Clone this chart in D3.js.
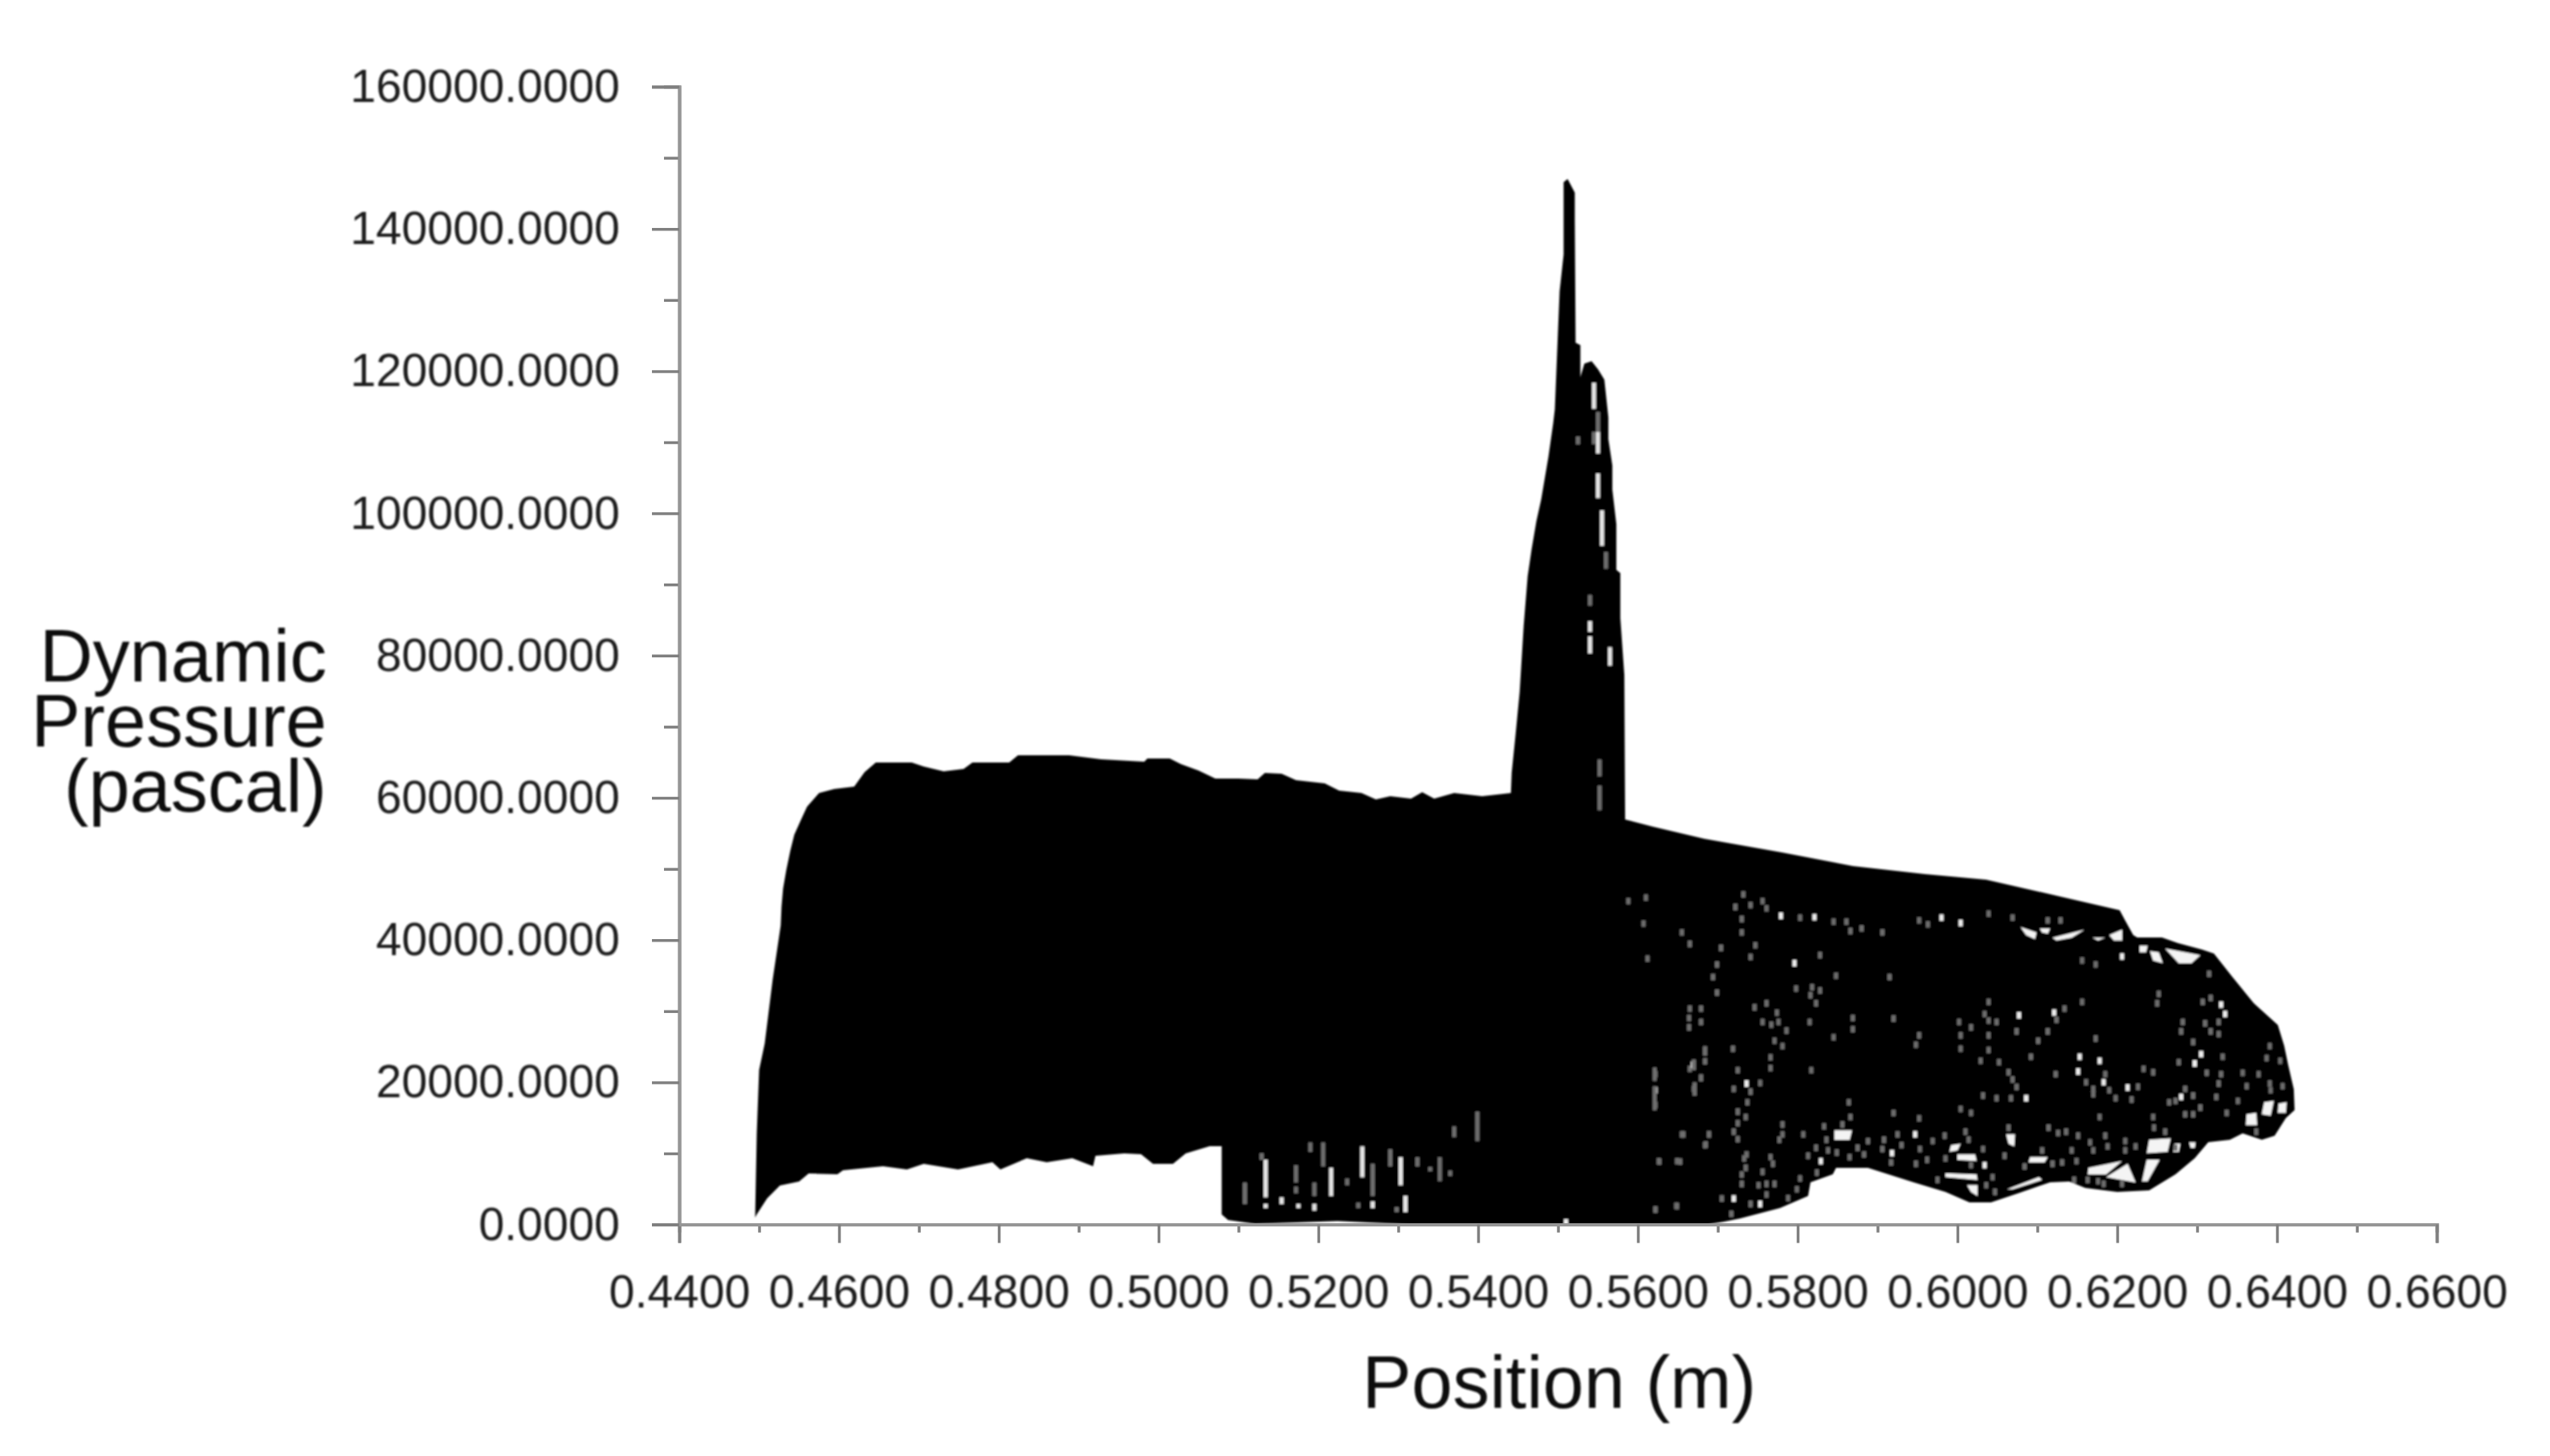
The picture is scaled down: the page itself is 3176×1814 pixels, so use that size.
<!DOCTYPE html>
<html><head><meta charset="utf-8">
<script src="https://cdn.jsdelivr.net/npm/d3@7"></script>
<style>
html,body{margin:0;padding:0;background:#fff;overflow:hidden}
svg{display:block}
text{font-family:"Liberation Sans",Arial,sans-serif}
</style></head><body><svg id="c" width="3176" height="1814"></svg>
<script>
// ---------- axis content ----------
const xMajorTicks=[0.44,0.46,0.48,0.50,0.52,0.54,0.56,0.58,0.60,0.62,0.64,0.66];
const xMinorTicks=[0.45,0.47,0.49,0.51,0.53,0.55,0.57,0.59,0.61,0.63,0.65];
const yMajorTicks=[0,20000,40000,60000,80000,100000,120000,140000,160000];
const yMinorTicks=[10000,30000,50000,70000,90000,110000,130000,150000];
const xTitle="Position (m)";
const yTitleLines=["Dynamic","Pressure","(pascal)"];

// ---------- silhouette of the node cloud (position, pressure), read clockwise ----------
const envelopeX=[.4495,.4497,.4500,.4507,.4517,.4523,.4527,.4528,.4530,.4534,.4539,.4544,.4553,.4560,.4575,.4594,.4619,.4632,.4646,.4691,.4706,.4731,.4756,.4767,.4813,.4824,.4888,.4928,.4982,.4986,.5014,.5028,.5050,.5071,.5100,.5124,.5133,.5154,.5172,.5208,.5226,.5254,.5272,.5290,.5316,.5330,.5345,.5370,.5405,.5441,
.5442,.5447,.5452,.5457,.5462,.5467,.5473,.5479,.5488,.5494,.5496,.5502,.5507,.5507,.5512,.5521,.5521,.5522,.5528,.5528,.5533,.5542,.5550,.5558,.5563,.5563,.5568,.5568,.5573,.5573,.5578,.5578,.5583,.5584,
.5619,.5683,.5780,.5869,.5959,.6036,.6133,.6203,.6210,.6220,.6225,.6256,.6276,.6306,.6321,.6344,.6371,.6401,.6409,.6414,.6421,.6422,.6411,.6397,.6381,.6357,.6341,.6314,.6297,.6273,.6240,.6200,.6160,.6140,.6116,.6075,.6042,.6015,.5985,.5945,.5888,.5848,.5844,.5816,.5813,.5778,.5728,.5708,.5687,
.5316,.5224,.5121,.5087,.5079,.5079,.5064,.5034,.5018,.4993,.4978,.4957,.4921,.4918,.4892,.4860,.4835,.4802,.4792,.4749,.4706,.4685,.4655,.4605,.4598,.4562,.4550,.4526,.4510,.4497];
const envelopeP=[970,12710,21740,25460,34490,39010,42060,44650,47250,49840,52550,54810,57070,58760,60680,61240,61580,63610,64970,64970,64400,63730,64060,64970,64970,65980,65980,65420,65080,65530,65530,64740,63840,62710,62710,62600,63500,63390,62480,62030,61020,60680,59780,60230,59890,60790,59890,60680,60230,60680,
63500,69030,74900,84160,91150,94990,98940,101990,107970,112710,114630,131220,136410,146570,147030,145100,141380,124000,123660,119150,121060,121400,120270,118810,113500,110450,106730,103340,98490,92060,91600,85290,77270,56950,
55940,54250,52330,50410,49280,48490,46010,44200,42730,40700,40360,40360,39570,38670,38100,34830,31110,28060,25120,22420,19030,16100,14970,12480,11920,12820,11920,11580,9320,7070,4810,4580,5150,6050,5940,4360,3120,3120,4580,5940,7970,7970,7070,5940,4020,2330,860,410,0,
0,500,100,630,1420,11020,11020,10000,8530,8530,9890,10000,9660,8190,9320,8760,9320,7740,8760,7740,8530,7740,8190,7630,7070,7180,6050,5490,3680,1420];

// ---------- open cells of the sparse mesh near the lower and upper rim ----------
const meshGaps=[
[[.6079,41830],[.6099,41080],[.6097,40140],[.6086,40700]],
[[.6119,40330],[.6159,41460],[.6143,40330],[.6124,39950]],
[[.6190,40700],[.6206,41460],[.6206,39950],[.6196,39950]],
[[.6103,41640],[.6116,41640],[.6113,40890],[.6106,41080]],
[[.6169,40330],[.6185,40330],[.6176,39950]],
[[.6260,38820],[.6304,37880],[.6293,36750],[.6277,36750]],
[[.6228,39200],[.6238,39200],[.6236,38260],[.6228,38260]],
[[.6241,38450],[.6252,38260],[.6257,36750],[.6245,37130]],
[[.6237,9100],[.6253,9100],[.6238,6090],[.6231,6090]],
[[.6240,11930],[.6267,12110],[.6263,10230],[.6237,10040]],
[[.6164,7970],[.6206,8920],[.6186,7030],[.6163,7030]],
[[.6213,8540],[.6223,5910],[.6186,6660]],
[[.6091,9480],[.6113,9480],[.6109,8730],[.6089,8730]],
[[.6062,4960],[.6102,6660],[.6106,6280],[.6069,4960]],
[[.5985,7220],[.6024,7030],[.6025,6280],[.5985,6660]],
[[.6000,9860],[.6022,9860],[.6024,8920],[.6000,9100]],
[[.5992,11170],[.6004,11360],[.6000,10420],[.5990,10230]],
[[.6012,5530],[.6025,5530],[.6025,4020],[.6017,4590]],
[[.6362,15500],[.6374,15690],[.6375,13990],[.6361,13990]],
[[.6384,17190],[.6396,17380],[.6392,15310],[.6381,15500]],
[[.6402,17000],[.6412,17190],[.6411,15690],[.6401,15690]],
[[.6061,12680],[.6072,12680],[.6071,10980],[.6064,11360]],
[[.6290,11550],[.6298,11550],[.6297,10800],[.6292,10800]],
[[.6272,11360],[.6279,11360],[.6277,10230],[.6270,10230]],
[[.5846,13240],[.5868,13240],[.5865,11920],[.5846,11920]]];

// ---------- small holes in the mesh: fully open ----------
const openHoles=[[.6153,23590],[.6151,21520],[.6183,20010],[.6213,19260],[.6086,17760],[.6034,8350],[.6004,42400],[.5980,43150],[.6206,37690],[.6330,30920],[.6335,29600],[.6297,22650],[.6305,23960],[.6280,17940],[.6077,29420],[.6121,29800],[.5947,12680],[.6178,23020],
[.5779,43410],[.5821,43220],[.5796,36750],[.5669,22460],[.5622,18880],[.5736,19820],[.5720,3650],[.5753,2890],[.5829,8910],[.5918,10040],[.5510,300]];

// ---------- small holes in the mesh: partly covered ----------
const partHoles=[[.5963,42210],[.5952,42770],[.6039,43710],[.6069,43150],[.6129,42770],[.6113,42770],[.6156,37130],[.6173,36570],[.6315,35250],[.6252,32430],[.6156,31300],[.6039,31300],[.6034,29600],[.6039,28670],[.6049,28480],[.6002,28480],[.6074,27160],[.6017,27720],[.6004,26600],[.6039,26600],[.5952,26600],[.5948,25280],[.6004,24720],[.6039,24530],[.6029,23020],[.6052,22830],[.6092,23590],[.6064,21410],[.6069,20390],[.6074,19340],[.6032,18130],[.6049,17760],[.6067,17760],[.6101,25840],[.6123,21140],[.6124,28780],[.6134,30360],[.6113,27160],[.6173,26150],[.6161,20010],[.6170,19070],[.6190,18880],[.6170,18320],[.6185,21140],[.6226,19370],[.6218,17570],[.6233,21890],[.6245,21410],[.6198,17760],[.6250,31110],[.6282,28480],[.6280,27160],[.6295,25660],[.6310,28290],[.6317,27160],[.6327,28480],[.6327,26780],[.6307,31300],[.6317,31860],[.6391,25090],[.6387,23400],[.6404,23020],[.6332,23590],[.6277,22830],[.6265,17190],[.6273,17380],[.6285,19070],[.6295,18130],[.6312,21330],[.6330,21140],[.6327,19820],[.6324,17940],[.6351,17380],[.6357,21330],[.6377,21140],[.6362,19450],[.6391,19820],[.6392,18880],[.6337,15690],[.6304,16440],[.6295,15500],[.6285,15500],[.6245,15120],[.6178,15120],[.6260,13050],[.6246,13620],[.6136,13050],[.6126,12870],[.6114,13620],[.6151,12490],[.6185,12490],[.6166,11550],[.6210,11740],[.6188,10980],[.6170,10420],[.6143,10420],[.6106,10420],[.6223,10980],[.6064,13620],[.6017,15690],[.6004,16250],[.5952,14930],[.6010,13050],[.5984,12490],[.5969,11740],[.6014,11930],[.5953,10610],[.5962,9100],[.5985,9290],[.5948,8540],[.6032,10610],[.6059,9670],[.6017,8350],[.6044,6660],[.5975,6280],[.6119,8540],[.6131,8730],[.6149,8920],[.6084,8160],[.6146,6280],[.6163,6280],[.6176,6090],[.6183,5720],[.6206,5720],[.6036,5530],[.6047,4590],[.6210,10420],[.6273,10800],[.6374,13050],[.6407,19450],
[.5588,45480],[.5610,45970],[.5732,46420],[.5722,44650],[.5741,44920],[.5756,45480],[.5761,44460],[.5803,43150],[.5845,42580],[.5861,42580],[.5880,41640],[.5906,41080],[.5866,41270],[.5607,42320],[.5655,41080],[.5665,39460],[.5704,38900],[.5747,39270],[.5730,41080],[.5730,42960],[.5612,37390],[.5741,37620],[.5699,36560],[.5828,37880],[.5694,34800],[.5699,32610],[.5848,34980],[.5915,34800],[.5798,33180],[.5818,33370],[.5828,32910],[.5816,32240],[.5823,31110],[.5665,30360],[.5679,30360],[.5679,28480],[.5664,29040],[.5664,27720],[.5746,30540],[.5761,31110],[.5774,29790],[.5776,28480],[.5767,28100],[.5756,28480],[.5786,27270],[.5815,28480],[.5869,29040],[.5869,27460],[.5920,28960],[.5845,26330],[.5771,25840],[.5781,25090],[.5684,24340],[.5719,24710],[.5684,22950],[.5766,23510],[.5766,22000],[.5817,21700],[.5665,21890],[.5622,21140],[.5622,16810],[.5679,20570],[.5670,19070],[.5725,21700],[.5741,18690],[.5753,19900],[.5720,19070],[.5737,17190],[.5864,17190],[.5725,15870],[.5735,15120],[.5725,14250],[.5720,13050],[.5725,12000],[.5866,15120],[.5856,14070],[.5833,13800],[.5781,14070],[.5781,12670],[.5777,11920],[.5807,12670],[.5920,15680],[.5655,12670],[.5689,12670],[.5685,11240],[.5627,8840],[.5653,8840],[.5736,9850],[.5733,9290],[.5766,9480],[.5769,8540],[.5735,7970],[.5756,7410],[.5730,7030],[.5730,5710],[.5751,5530],[.5761,5710],[.5771,5710],[.5803,6470],[.5705,3650],[.5761,4210],[.5741,2890],[.5799,4960],[.5788,3720],[.5717,1500],[.5649,2590],[.5622,2070],[.5823,10790],[.5824,7300],[.5849,10120],[.5875,10790],[.5888,11730],[.5906,10610],[.5930,11170],[.5917,8720],[.5883,9850],[.5865,9480],[.5838,10420],[.5813,9670],[.5925,12670],[.5908,11920],[.5836,11920],
[.5657,12670],[.5689,12670],[.5684,11160],[.5649,8910],[.5626,8910],[.5648,2620],[.5622,2140]];

// ---------- vertical slits [position, high, low]: fully open ----------
const openSlits=[[.5545,118370,114700],[.5550,105610,102150],[.5555,100420,95450],[.5550,111450,108430],[.5540,82690,80310],[.5540,84850,83340],[.5565,81180,78580],
[.5134,9100,3830],[.5134,2890,2320],[.5216,7970,4020],[.5255,10980,6650],[.5303,9470,5520],[.5309,4020,1760],[.5268,3260,2320],[.5195,2890,1950],[.5175,2890,2320],[.5154,3830,2890]];

// ---------- vertical slits [position, high, low]: partly covered ----------
const partSlits=[[.5560,94580,92210],[.5540,88530,87020],[.5525,110800,109700],[.5550,114260,111450],[.5552,65390,63010],[.5552,61720,58250],[.5545,111450,109720],
[.5108,5900,2890],[.5129,10040,9100],[.5172,8340,5900],[.5172,5330,4390],[.5190,11540,10220],[.5206,11540,8160],[.5195,5900,4020],[.5236,6460,5520],[.5268,8530,4020],[.5290,10600,8160],[.5324,9470,8160],[.5352,9470,6090],[.5365,7590,6840],[.5370,13800,12290],[.5399,15870,11730],[.5250,3080,2320],[.5340,8080,7480],[.5298,2440,1760],
[.5621,22070,20190],[.5621,19440,16050],[.5670,23200,21700],[.5671,20000,18120],[.5684,25080,23770],[.5679,21130,20190]];

// ---------- scales ----------
const x=d3.scaleLinear().domain([0.44,0.66]).range([846,3035]);
const y=d3.scaleLinear().domain([0,160000]).range([1525.6,108]);
const svg=d3.select("#c");
svg.append("rect").attr("width",3176).attr("height",1814).attr("fill","#fff");
const defs=svg.append("defs");
defs.append("filter").attr("id","soft").attr("x","-2%").attr("y","-2%").attr("width","104%").attr("height","104%")
  .append("feGaussianBlur").attr("stdDeviation",0.9);

// ---------- marks ----------
const marks=svg.append("g").attr("filter","url(#soft)");
marks.append("path")
  .attr("d",d3.line().x(i=>x(envelopeX[i])).y(i=>y(envelopeP[i])).curve(d3.curveLinearClosed)(d3.range(envelopeX.length)))
  .attr("fill","#000");
marks.selectAll("path.gap").data(meshGaps).join("path").attr("class","gap")
  .attr("d",d3.line().x(d=>x(d[0])).y(d=>y(d[1])).curve(d3.curveLinearClosed))
  .attr("fill","#f4f4f4");
function holes(list,fill){
  marks.append("g").selectAll("rect").data(list).join("rect")
    .attr("x",d=>x(d[0])-2.5).attr("y",d=>y(d[1])-4).attr("width",5).attr("height",8).attr("fill",fill);
}
function slits(list,fill){
  marks.append("g").selectAll("rect").data(list).join("rect")
    .attr("x",d=>x(d[0])-2.5).attr("y",d=>y(d[1])).attr("width",5).attr("height",d=>y(d[2])-y(d[1])).attr("fill",fill);
}
holes(partHoles,"#6e6e6e");
holes(openHoles,"#f0f0f0");
slits(partSlits,"#6e6e6e");
slits(openSlits,"#e6e6e6");

// ---------- axes ----------
const axisColor="#7f7f7f";
function style(g,w){g.selectAll("path.domain").attr("stroke","#969696").attr("stroke-width",w);g.selectAll(".tick line").attr("stroke",axisColor).attr("stroke-width",3.5);}
const xMinorG=svg.append("g").attr("transform",`translate(0,${y(0)})`)
  .call(d3.axisBottom(x).tickValues(xMinorTicks).tickSize(10).tickFormat(""));
style(xMinorG,4);
const xMajorG=svg.append("g").attr("transform",`translate(0,${y(0)})`)
  .call(d3.axisBottom(x).tickValues(xMajorTicks).tickSize(23).tickPadding(40).tickFormat(d3.format(".4f")));
style(xMajorG,4);
const yMinorG=svg.append("g").attr("transform",`translate(${x(0.44)},0)`)
  .call(d3.axisLeft(y).tickValues(yMinorTicks).tickSize(19).tickFormat(""));
style(yMinorG,4);
const yMajorG=svg.append("g").attr("transform",`translate(${x(0.44)},0)`)
  .call(d3.axisLeft(y).tickValues(yMajorTicks).tickSize(34).tickPadding(40).tickFormat(d3.format(".4f")));
style(yMajorG,4);
svg.selectAll("g .tick text").attr("font-family",'"Liberation Sans",Arial,sans-serif').attr("font-size",57.5).attr("fill","#1c1c1c").attr("filter","url(#soft)");

// ---------- titles ----------
svg.append("text").attr("x",1942).attr("y",1754).attr("text-anchor","middle").attr("font-size",92).attr("fill","#111").attr("filter","url(#soft)").text(xTitle);
svg.selectAll("text.yt").data(yTitleLines).join("text").attr("class","yt")
  .attr("x",407).attr("y",(d,i)=>849+i*81).attr("text-anchor","end").attr("font-size",92).attr("fill","#111").attr("filter","url(#soft)").text(d=>d);
</script></body></html>
